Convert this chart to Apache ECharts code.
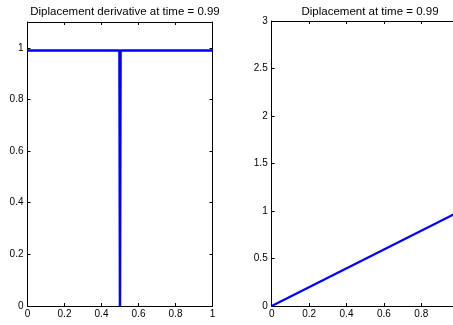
<!DOCTYPE html>
<html>
<head>
<meta charset="utf-8">
<script src="https://cdn.jsdelivr.net/npm/echarts@6/dist/echarts.min.js"></script>
<style>
  html, body { margin: 0; padding: 0; background: #fff; }
  #main { width: 453px; height: 325px; }
</style>
</head>
<body>
<div id="main"></div>
<script>
// left plot: displacement derivative
var derivX = [0, 0.497, 0.5, 0.503, 1];
var derivY = [0.99, 0.99, 0, 0.99, 0.99];
// right plot: displacement
var dispX = [0, 1];
var dispY = [0, 0.99];

var titles = ['Diplacement derivative at time = 0.99', 'Diplacement at time = 0.99'];

var chart = echarts.init(document.getElementById('main'));
var font = 'Liberation Sans, Arial, sans-serif';

function zip(xs, ys) {
  return xs.map(function (x, i) { return [x, ys[i]]; });
}

function axisBase(extra) {
  var a = {
    type: 'value',
    axisLine: { show: true, onZero: false, lineStyle: { color: '#000', width: 1 } },
    axisTick: { show: true, inside: true, length: 3, lineStyle: { color: '#000' } },
    splitLine: { show: false },
    axisLabel: { color: '#000', fontSize: 10, fontFamily: font, margin: 3, showMaxLabel: true }
  };
  return Object.assign(a, extra);
}

var option = {
  animation: false,
  title: [{
    text: titles[0], left: 120, top: 1, textAlign: 'center',
    textStyle: { fontSize: 11.5, fontWeight: 'normal', color: '#000', fontFamily: font }
  }, {
    text: titles[1], left: 365, top: 1, textAlign: 'center',
    textStyle: { fontSize: 11.5, fontWeight: 'normal', color: '#000', fontFamily: font }
  }],
  grid: [
    { left: 27.5, top: 22, width: 185, height: 284, outerBoundsMode: 'none' },
    { left: 271.7, top: 21, width: 187, height: 285, outerBoundsMode: 'none' }
  ],
  xAxis: [
    axisBase({ gridIndex: 0, min: 0, max: 1, interval: 0.2, position: 'bottom' }),
    axisBase({ gridIndex: 0, min: 0, max: 1, interval: 0.2, position: 'top', axisLabel: { show: false } }),
    axisBase({ gridIndex: 1, min: 0, max: 1, interval: 0.2, position: 'bottom' }),
    axisBase({ gridIndex: 1, min: 0, max: 1, interval: 0.2, position: 'top', axisLabel: { show: false } })
  ],
  yAxis: [
    axisBase({ gridIndex: 0, min: 0, max: 1.1, interval: 0.2, position: 'left',
      axisLabel: { color: '#000', fontSize: 10, fontFamily: font, margin: 4, showMaxLabel: false } }),
    axisBase({ gridIndex: 0, min: 0, max: 1.1, interval: 0.2, position: 'right', axisLabel: { show: false } }),
    axisBase({ gridIndex: 1, min: 0, max: 3, interval: 0.5, position: 'left',
      axisLabel: { color: '#000', fontSize: 10, fontFamily: font, margin: 4 } }),
    axisBase({ gridIndex: 1, min: 0, max: 3, interval: 0.5, position: 'right', axisLabel: { show: false } })
  ],
  series: [{
    type: 'line', xAxisIndex: 0, yAxisIndex: 0,
    data: zip(derivX, derivY),
    showSymbol: false,
    lineStyle: { color: '#0000ff', width: 2.5 }
  }, {
    type: 'line', xAxisIndex: 2, yAxisIndex: 2,
    data: zip(dispX, dispY),
    showSymbol: false,
    lineStyle: { color: '#0000ff', width: 2.2 }
  }]
};

chart.setOption(option);
</script>
</body>
</html>
